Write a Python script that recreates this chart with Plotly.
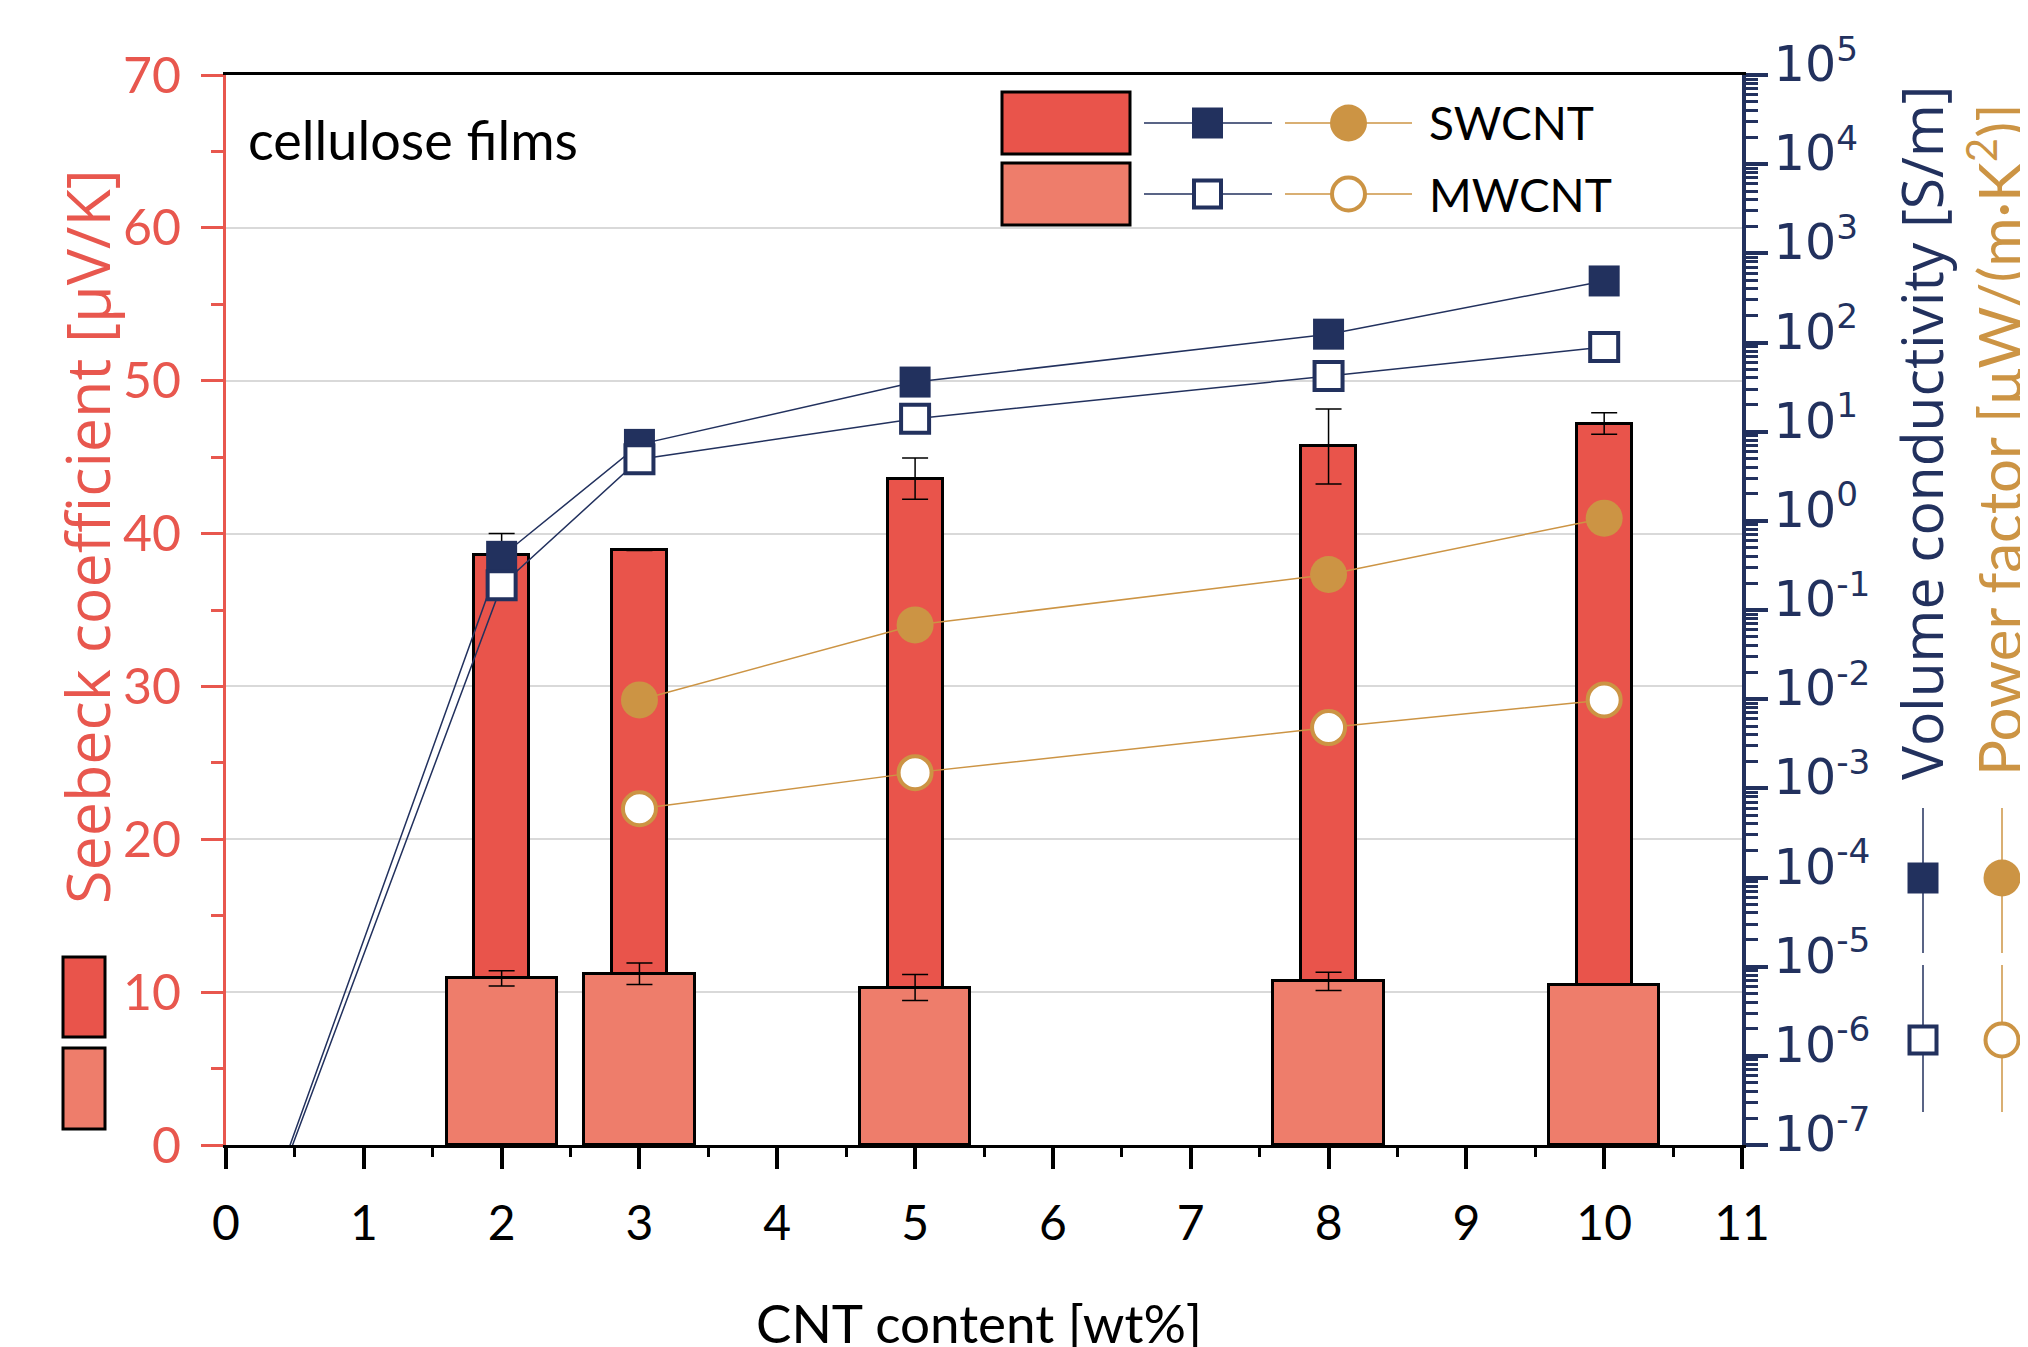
import plotly.graph_objects as go

# ---------------- data ----------------
cnt_bar = [2, 3, 5, 8, 10]
seebeck_sw = [38.6, 38.9, 43.6, 45.7, 47.2]
seebeck_sw_err = [1.4, None, 1.35, 2.45, 0.7]
seebeck_mw = [10.9, 11.2, 10.3, 10.7, 10.5]
seebeck_mw_err = [0.5, 0.7, 0.85, 0.6, None]

cnt_sigma = [0, 2, 3, 5, 8, 10]
sigma_sw = [1e-9, 0.40, 7.2, 36, 124, 490]
sigma_mw = [1e-9, 0.19, 4.9, 14, 42, 89]

cnt_pf = [3, 5, 8, 10]
pf_sw = [0.0098, 0.068, 0.25, 1.07]
pf_mw = [5.9e-4, 1.5e-3, 4.8e-3, 9.8e-3]

x_ticks = list(range(0, 12))
log_exps = list(range(-7, 6))
log_tickvals = [10.0 ** e for e in log_exps]
log_ticktext = ["10<sup>%d</sup>" % e for e in log_exps]

# ---------------- styles ----------------
RED = "#E9544B"
SALMON = "#EE7D6B"
AXRED = "#E8574E"
NAVY = "#22315E"
GOLD = "#CC9444"
PAGE = 8  # default body margin of the html page
W, H = 2028 - PAGE, 1347 - PAGE
# plot area in screen pixels
SL, SR, ST, SB = 226, 1742, 75, 1145
L, R, T, B = SL - PAGE, SR - PAGE, ST - PAGE, SB - PAGE


def px_x(p):
    return (p - SL) / (SR - SL)


def px_y(p):
    return (SB - p) / (SB - ST)


fig = go.Figure()

fig.add_trace(go.Bar(
    x=cnt_bar, y=seebeck_sw, width=0.4, marker=dict(color=RED, line=dict(color="black", width=3)),
    error_y=dict(type="data", array=seebeck_sw_err, color="black", thickness=1.5, width=13),
    yaxis="y", showlegend=False))
fig.add_trace(go.Bar(
    x=cnt_bar, y=seebeck_mw, width=0.8, marker=dict(color=SALMON, line=dict(color="black", width=3)),
    error_y=dict(type="data", array=seebeck_mw_err, color="black", thickness=1.5, width=13),
    yaxis="y", showlegend=False))

fig.add_trace(go.Scatter(
    x=cnt_sigma, y=sigma_sw, yaxis="y2", mode="lines+markers",
    line=dict(color=NAVY, width=1.5),
    marker=dict(symbol="square", size=31, color=NAVY, line=dict(width=0)), showlegend=False))
fig.add_trace(go.Scatter(
    x=cnt_sigma, y=sigma_mw, yaxis="y2", mode="lines+markers",
    line=dict(color=NAVY, width=1.5),
    marker=dict(symbol="square", size=28, color="white", line=dict(color=NAVY, width=4)), showlegend=False))
fig.add_trace(go.Scatter(
    x=cnt_pf, y=pf_sw, yaxis="y2", mode="lines+markers",
    line=dict(color=GOLD, width=1.5),
    marker=dict(symbol="circle", size=37, color=GOLD, line=dict(width=0)), showlegend=False))
fig.add_trace(go.Scatter(
    x=cnt_pf, y=pf_mw, yaxis="y2", mode="lines+markers",
    line=dict(color=GOLD, width=1.5),
    marker=dict(symbol="circle", size=33, color="white", line=dict(color=GOLD, width=4)), showlegend=False))

shapes = []
# top legend
shapes.append(dict(type="rect", xref="paper", yref="paper", x0=px_x(1002), x1=px_x(1130), y0=px_y(154), y1=px_y(92),
                   fillcolor=RED, line=dict(color="black", width=3)))
shapes.append(dict(type="rect", xref="paper", yref="paper", x0=px_x(1002), x1=px_x(1130), y0=px_y(225), y1=px_y(163),
                   fillcolor=SALMON, line=dict(color="black", width=3)))
for yy, filled in [(123, True), (194, False)]:
    shapes.append(dict(type="line", xref="paper", yref="paper", x0=px_x(1144), x1=px_x(1272), y0=px_y(yy), y1=px_y(yy),
                       line=dict(color=NAVY, width=1.5)))
    shapes.append(dict(type="line", xref="paper", yref="paper", x0=px_x(1285), x1=px_x(1412), y0=px_y(yy), y1=px_y(yy),
                       line=dict(color=GOLD, width=1.5)))
    if filled:
        shapes.append(dict(type="rect", xref="paper", yref="paper", x0=px_x(1192), x1=px_x(1223), y0=px_y(yy + 15.5), y1=px_y(yy - 15.5),
                           fillcolor=NAVY, line=dict(width=0)))
        shapes.append(dict(type="circle", xref="paper", yref="paper", x0=px_x(1330), x1=px_x(1367), y0=px_y(yy + 18.5), y1=px_y(yy - 18.5),
                           fillcolor=GOLD, line=dict(width=0)))
    else:
        shapes.append(dict(type="rect", xref="paper", yref="paper", x0=px_x(1194), x1=px_x(1221), y0=px_y(yy + 13.5), y1=px_y(yy - 13.5),
                           fillcolor="white", line=dict(color=NAVY, width=4)))
        shapes.append(dict(type="circle", xref="paper", yref="paper", x0=px_x(1332), x1=px_x(1365), y0=px_y(yy + 16.5), y1=px_y(yy - 16.5),
                           fillcolor="white", line=dict(color=GOLD, width=4)))

# left bar legend
shapes.append(dict(type="rect", xref="paper", yref="paper", x0=px_x(63), x1=px_x(105), y0=px_y(1037), y1=px_y(957),
                   fillcolor=RED, line=dict(color="black", width=3)))
shapes.append(dict(type="rect", xref="paper", yref="paper", x0=px_x(63), x1=px_x(105), y0=px_y(1129), y1=px_y(1048),
                   fillcolor=SALMON, line=dict(color="black", width=3)))

# right vertical legend
for xx, col in [(1923, NAVY), (2002, GOLD)]:
    for (y0, y1) in [(808, 953), (965, 1112)]:
        shapes.append(dict(type="line", xref="paper", yref="paper", x0=px_x(xx), x1=px_x(xx), y0=px_y(y0), y1=px_y(y1),
                           line=dict(color=col, width=1.5)))
shapes.append(dict(type="rect", xref="paper", yref="paper", x0=px_x(1923 - 15.5), x1=px_x(1923 + 15.5), y0=px_y(878 + 15.5), y1=px_y(878 - 15.5),
                   fillcolor=NAVY, line=dict(width=0)))
shapes.append(dict(type="rect", xref="paper", yref="paper", x0=px_x(1923 - 13.5), x1=px_x(1923 + 13.5), y0=px_y(1040 + 13.5), y1=px_y(1040 - 13.5),
                   fillcolor="white", line=dict(color=NAVY, width=4)))
shapes.append(dict(type="circle", xref="paper", yref="paper", x0=px_x(2002 - 18.5), x1=px_x(2002 + 18.5), y0=px_y(878 + 18.5), y1=px_y(878 - 18.5),
                   fillcolor=GOLD, line=dict(width=0)))
shapes.append(dict(type="circle", xref="paper", yref="paper", x0=px_x(2002 - 16.5), x1=px_x(2002 + 16.5), y0=px_y(1040 + 16.5), y1=px_y(1040 - 16.5),
                   fillcolor="white", line=dict(color=GOLD, width=4)))

annotations = [
    dict(text="cellulose films", x=px_x(246), y=px_y(140), xref="paper", yref="paper", xanchor="left", yanchor="middle",
         showarrow=False, font=dict(family="Lato", size=54, color="black")),
    dict(text="SWCNT", x=px_x(1427), y=px_y(123), xref="paper", yref="paper", xanchor="left", yanchor="middle",
         showarrow=False, font=dict(family="Lato", size=46, color="black")),
    dict(text="MWCNT", x=px_x(1427), y=px_y(194), xref="paper", yref="paper", xanchor="left", yanchor="middle",
         showarrow=False, font=dict(family="Lato", size=46, color="black")),
    dict(text="CNT content [wt%]", x=px_x(979), y=px_y(1322), xref="paper", yref="paper", xanchor="center", yanchor="middle",
         showarrow=False, font=dict(family="Lato", size=53, color="black")),
    dict(text="Seebeck coefficient [μV/K]", x=px_x(86), y=px_y(537), xref="paper", yref="paper", xanchor="center", yanchor="middle",
         textangle=-90, showarrow=False, font=dict(family="Open Sans", size=61, color=AXRED)),
    dict(text="Volume conductivity [S/m]", x=px_x(1921), y=px_y(433), xref="paper", yref="paper", xanchor="center", yanchor="middle",
         textangle=-90, showarrow=False, font=dict(family="Open Sans", size=57, color=NAVY)),
    dict(text="Power factor [μW/(m·K<sup>2</sup>)]", x=px_x(1995), y=px_y(440), xref="paper", yref="paper", xanchor="center", yanchor="middle",
         textangle=-90, showarrow=False, font=dict(family="Lato", size=60, color=GOLD)),
]

fig.update_layout(
    width=W, height=H,
    margin=dict(l=L, r=W - R, t=T, b=H - B, pad=0),
    paper_bgcolor="white", plot_bgcolor="white",
    barmode="overlay", bargap=0,
    showlegend=False,
    shapes=shapes, annotations=annotations,
    xaxis=dict(range=[0, 11], tickmode="array", tickvals=x_ticks, ticks="outside", ticklen=21, tickwidth=4,
               tickcolor="black", showline=True, linecolor="black", linewidth=3, mirror=True,
               showgrid=False, zeroline=False, ticklabelstandoff=13,
               tickfont=dict(family="Lato", size=48, color="black"),
               minor=dict(dtick=0.5, tick0=0, ticks="outside", ticklen=9, tickwidth=3, tickcolor="black", showgrid=False)),
    yaxis=dict(range=[0, 70], dtick=10, ticks="outside", ticklen=22, tickwidth=3, tickcolor=AXRED,
               showline=True, linecolor=AXRED, linewidth=3, showgrid=True, gridcolor="#D9D9D9", gridwidth=2,
               zeroline=False, ticklabelstandoff=10,
               tickfont=dict(family="Lato", size=50, color=AXRED),
               minor=dict(dtick=5, tick0=0, ticks="outside", ticklen=12, tickwidth=3, tickcolor=AXRED, showgrid=False)),
    yaxis2=dict(type="log", range=[-7, 5], overlaying="y", side="right", tickmode="array",
                tickvals=log_tickvals, ticktext=log_ticktext, ticks="outside", ticklen=22, tickwidth=4, tickcolor=NAVY,
                showline=True, linecolor=NAVY, linewidth=4, showgrid=False, zeroline=False,
                ticklabelstandoff=-4, ticklabelshift=-11,
                tickfont=dict(family="DejaVu Sans", size=49, color=NAVY),
                minor=dict(dtick="D1", ticks="outside", ticklen=12, tickwidth=3, tickcolor=NAVY, showgrid=False)),
)

fig.write_html("out.html")
